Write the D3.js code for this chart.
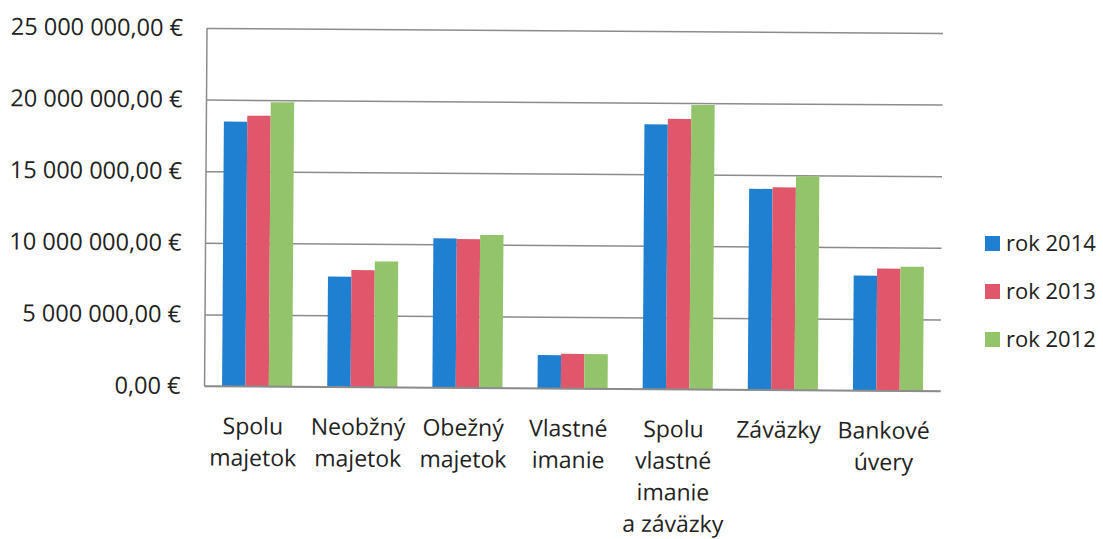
<!DOCTYPE html>
<html>
<head>
<meta charset="utf-8">
<script src="https://cdn.jsdelivr.net/npm/d3@7/dist/d3.min.js"></script>
<style>
  html, body { margin: 0; padding: 0; background: #fff; }
  svg { display: block; }
  text { font-family: "Open Sans", "Noto Sans", sans-serif; fill: #222; }
</style>
</head>
<body>
<svg id="chart" width="1103" height="539"></svg>
<script>
// ---- data ----
const categories = [
  "Spolu\nmajetok",
  "Neobžný\nmajetok",
  "Obežný\nmajetok",
  "Vlastné\nimanie",
  "Spolu\nvlastné\nimanie\na záväzky",
  "Záväzky",
  "Bankové\núvery"
];
const seriesNames = ["rok 2014", "rok 2013", "rok 2012"];
const rok2014 = [18480000, 7700000, 10420000, 2320000, 18480000, 14030000, 8020000];
const rok2013 = [18900000, 8170000, 10380000, 2420000, 18880000, 14140000, 8520000];
const rok2012 = [19850000, 8780000, 10680000, 2410000, 19860000, 14920000, 8660000];
const yTicks = [0, 5000000, 10000000, 15000000, 20000000, 25000000];
const colors = ["#1f7fd0", "#e0566a", "#93c46b"];

// ---- layout ----
const svg = d3.select("#chart");
const plotLeft = 207, plotTop = 28, plotW = 736, plotH = 358;

const g = svg.append("g")
  .attr("transform", `rotate(0.39, ${plotLeft}, ${plotTop}) translate(${plotLeft},${plotTop})`);

const y = d3.scaleLinear().domain([0, 25000000]).range([plotH, 0]);
const x = d3.scaleBand().domain(categories).range([0, plotW])
  .paddingInner(1/3).paddingOuter(1/6);
const xs = d3.scaleBand().domain(seriesNames).range([0, x.bandwidth()]).padding(0);

const skLocale = d3.formatLocale({
  decimal: ",", thousands: "\u00a0", grouping: [3], currency: ["", "\u00a0€"]
});
const fmt = skLocale.format("$,.2f");

// gridlines
const grid = g.append("g")
  .call(d3.axisLeft(y).tickValues(yTicks).tickSize(-plotW).tickFormat(""));
grid.select(".domain").remove();
grid.selectAll(".tick line").attr("stroke", "#8c8c8c").attr("stroke-width", 1.5);

// left axis line
g.append("line")
  .attr("x1", 0).attr("x2", 0).attr("y1", y(25000000)).attr("y2", y(0))
  .attr("stroke", "#8c8c8c").attr("stroke-width", 1.5);

// y labels
const yAxis = g.append("g")
  .call(d3.axisLeft(y).tickValues(yTicks).tickSize(0).tickPadding(24).tickFormat(fmt));
yAxis.select(".domain").remove();
yAxis.selectAll("text")
  .attr("font-size", 23.5)
  .style("font-family", '"Open Sans", "Noto Sans", sans-serif')
  .attr("fill", "#222");

// bars
const table = seriesNames.map((s, i) => ({
  name: s, color: colors[i],
  values: [rok2014, rok2013, rok2012][i]
}));
const groups = g.append("g").selectAll("g")
  .data(categories)
  .join("g")
  .attr("transform", d => `translate(${x(d)},0)`);
groups.selectAll("rect")
  .data((d, ci) => table.map(s => ({ s: s.name, color: s.color, v: s.values[ci] })))
  .join("rect")
  .attr("x", d => xs(d.s))
  .attr("width", xs.bandwidth())
  .attr("y", d => y(d.v))
  .attr("height", d => y(0) - y(d.v))
  .attr("fill", d => d.color);

// redraw baseline on top
g.append("line")
  .attr("x1", 0).attr("x2", plotW).attr("y1", y(0)).attr("y2", y(0))
  .attr("stroke", "#8c8c8c").attr("stroke-width", 1.5);

// x labels
const xl = g.append("g").selectAll("text")
  .data(categories)
  .join("text")
  .attr("text-anchor", "middle")
  .attr("font-size", 23)
  .attr("transform", d => `translate(${x(d) + x.bandwidth() / 2 - 4},${plotH + 48})`);
xl.selectAll("tspan")
  .data(d => d.split("\n"))
  .join("tspan")
  .attr("x", 0)
  .attr("y", (d, i) => i * 31.6)
  .text(d => d);

// legend
const legend = svg.append("g");
const leg = legend.selectAll("g")
  .data(table)
  .join("g")
  .attr("transform", (d, i) => `translate(985,${243.5 + i * 48})`);
leg.append("rect")
  .attr("x", 0).attr("y", -7.5).attr("width", 15).attr("height", 15)
  .attr("fill", d => d.color);
leg.append("text")
  .attr("x", 21).attr("dy", "0.35em")
  .attr("font-size", 22)
  .text(d => d.name);
</script>
</body>
</html>
